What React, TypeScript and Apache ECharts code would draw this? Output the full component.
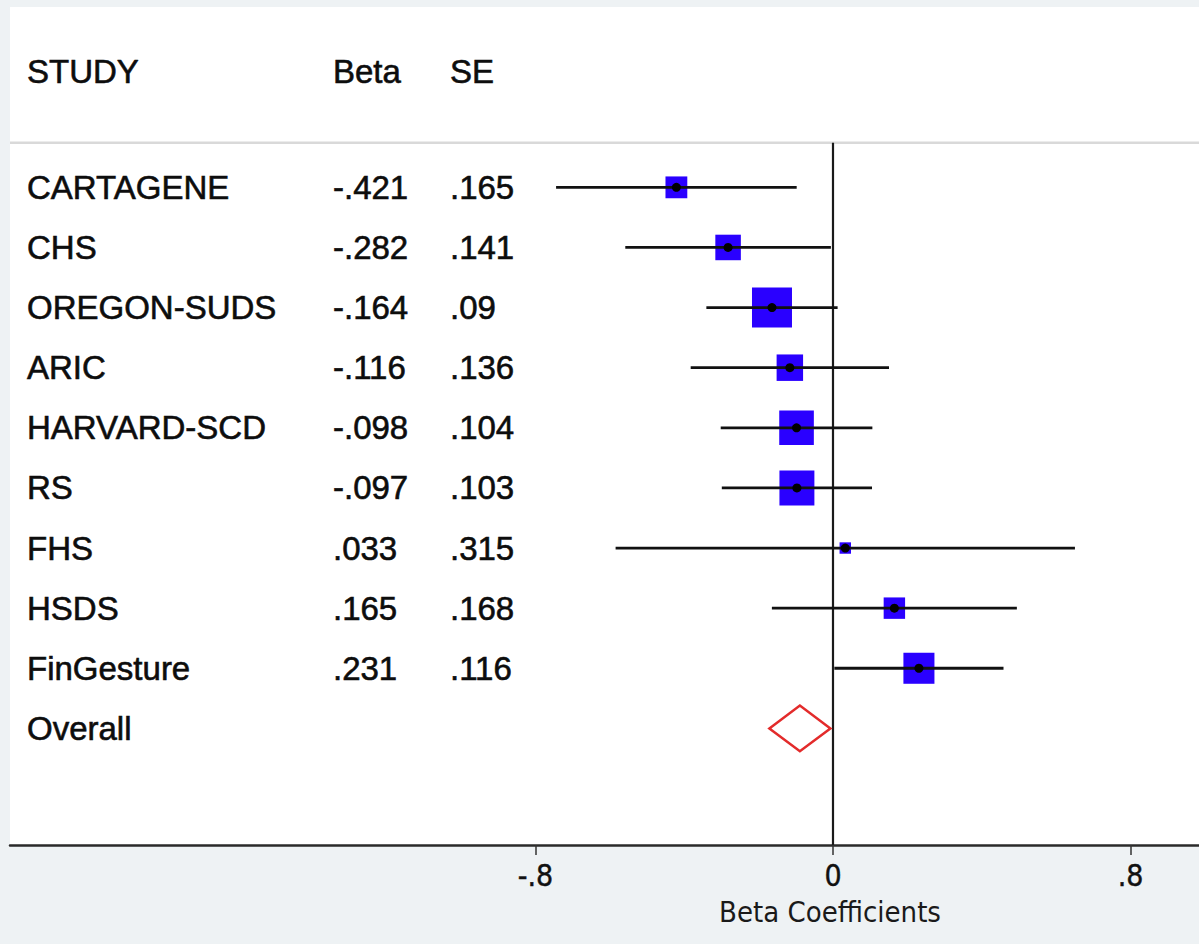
import React, { useEffect, useRef } from "react";
import * as echarts from "echarts";

const studies = ["CARTAGENE", "CHS", "OREGON-SUDS", "ARIC", "HARVARD-SCD", "RS", "FHS", "HSDS", "FinGesture"];
const betas = [-0.421, -0.282, -0.164, -0.116, -0.098, -0.097, 0.033, 0.165, 0.231];
const ses = [0.165, 0.141, 0.09, 0.136, 0.104, 0.103, 0.315, 0.168, 0.116];
const overallLabel = "Overall";
const overallBeta = -0.089;
const overallLow = -0.171;
const overallHigh = -0.007;
const headers = ["STUDY", "Beta", "SE"];
const tickValues = [-0.8, 0, 0.8];
const tickLabels = ["-.8", "0", ".8"];
const axisTitle = "Beta Coefficients";

const X_MIN = -2.2124;
const X_MAX = 0.9839;
const Y_MIN = -3;
const Y_MAX = 10.94;
const HEADER_ROW = -1.92;
const SEP_ROW = -0.74;
const OVERALL_ROW = studies.length;

const fmt = (v: number) => String(v).replace(/^(-?)0\./, "$1.");
const MAIN_FONT = '"Liberation Sans", Arial, Helvetica, sans-serif';
const AXIS_FONT = '"Liberation Sans Narrow", "DejaVu Sans Condensed", "Open Sans", sans-serif';

export default function App() {
  const ref = useRef<HTMLDivElement>(null);
  useEffect(() => {
    if (!ref.current) return;
    const chart = echarts.init(ref.current, null, { renderer: "svg" });
    const colX = [27, 333, 450];
    const tableRows: any[] = [
      [HEADER_ROW, headers[0], headers[1], headers[2]],
      ...studies.map((s, i) => [i, s, fmt(betas[i]), fmt(ses[i])]),
      [OVERALL_ROW, overallLabel, "", ""],
    ];
    const option: any = {
      animation: false,
      backgroundColor: "#eef2f4",
      grid: {
        left: 10,
        right: 0,
        top: 7,
        bottom: 99,
        show: true,
        backgroundColor: "#ffffff",
        borderWidth: 0,
      },
      xAxis: {
        type: "value",
        min: X_MIN,
        max: X_MAX,
        splitLine: { show: false },
        axisLine: { show: true, onZero: false, lineStyle: { color: "#2a2a2a", width: 2.5 } },
        axisTick: {
          show: true,
          customValues: tickValues,
          length: 10,
          lineStyle: { color: "#333", width: 1.5 },
        },
        axisLabel: {
          customValues: tickValues,
          margin: 15,
          fontSize: 30,
          color: "#111",
          fontFamily: AXIS_FONT,
          textBorderColor: "#111",
          textBorderWidth: 0.4,
          formatter: (v: number) => {
            const idx = tickValues.findIndex((t) => Math.abs(t - v) < 1e-6);
            return idx >= 0 ? tickLabels[idx] : "";
          },
        },
      },
      yAxis: {
        type: "value",
        inverse: true,
        min: Y_MIN,
        max: Y_MAX,
        show: false,
      },
      graphic: [
        {
          type: "text",
          x: 830,
          y: 912,
          style: {
            text: axisTitle,
            fontSize: 29,
            fontFamily: AXIS_FONT,
            fill: "#1a1a1a",
            align: "center",
            verticalAlign: "middle",
          },
        },
      ],
      series: [
        {
          type: "line",
          data: [[X_MIN, SEP_ROW], [X_MAX, SEP_ROW]],
          symbol: "none",
          lineStyle: { color: "#d9d9d9", width: 2.5 },
          silent: true,
          z: 1,
        },
        {
          type: "line",
          data: [[0, SEP_ROW], [0, Y_MAX]],
          symbol: "none",
          lineStyle: { color: "#1a1a1a", width: 2.2 },
          silent: true,
          z: 2,
        },
        {
          type: "custom",
          data: tableRows,
          z: 3,
          renderItem: (params: any, api: any) => {
            const row = tableRows[params.dataIndex];
            const y = api.coord([0, row[0]])[1];
            return {
              type: "group",
              children: [1, 2, 3].map((k) => ({
                type: "text",
                x: colX[k - 1],
                y,
                style: {
                  text: row[k],
                  fontSize: 33,
                  fontFamily: MAIN_FONT,
                  fill: "#0d0d0d",
                  stroke: "#0d0d0d",
                  lineWidth: 0.6,
                  align: "left",
                  verticalAlign: "middle",
                },
              })),
            };
          },
        },
        {
          type: "scatter",
          data: betas.map((b, i) => [b, i]),
          symbol: "rect",
          symbolSize: (_v: any, p: any) => 3.6 / ses[p.dataIndex],
          itemStyle: { color: "#2a00ff", opacity: 1 },
          z: 4,
        },
        {
          type: "custom",
          data: betas.map((b, i) => [b - 1.96 * ses[i], b + 1.96 * ses[i], i]),
          z: 5,
          renderItem: (_params: any, api: any) => {
            const p1 = api.coord([api.value(0), api.value(2)]);
            const p2 = api.coord([api.value(1), api.value(2)]);
            return {
              type: "line",
              shape: { x1: p1[0], y1: p1[1], x2: p2[0], y2: p2[1] },
              style: { stroke: "#111", lineWidth: 2.8 },
            };
          },
        },
        {
          type: "scatter",
          data: betas.map((b, i) => [b, i]),
          symbol: "circle",
          symbolSize: 9,
          itemStyle: { color: "#000", opacity: 1 },
          z: 6,
        },
        {
          type: "custom",
          data: [[overallLow, overallBeta, overallHigh, OVERALL_ROW]],
          z: 7,
          renderItem: (_params: any, api: any) => {
            const r = api.value(3);
            const h = 0.38;
            const pts = [
              api.coord([api.value(0), r]),
              api.coord([api.value(1), r - h]),
              api.coord([api.value(2), r]),
              api.coord([api.value(1), r + h]),
            ];
            return {
              type: "polygon",
              shape: { points: pts },
              style: { fill: "#ffffff", stroke: "#e32b2b", lineWidth: 2.5 },
            };
          },
        },
      ],
    };
    chart.setOption(option);
    return () => chart.dispose();
  }, []);
  return (
    <div
      ref={ref}
      style={{ position: "absolute", left: 0, top: 0, width: 1199, height: 944 }}
    />
  );
}
